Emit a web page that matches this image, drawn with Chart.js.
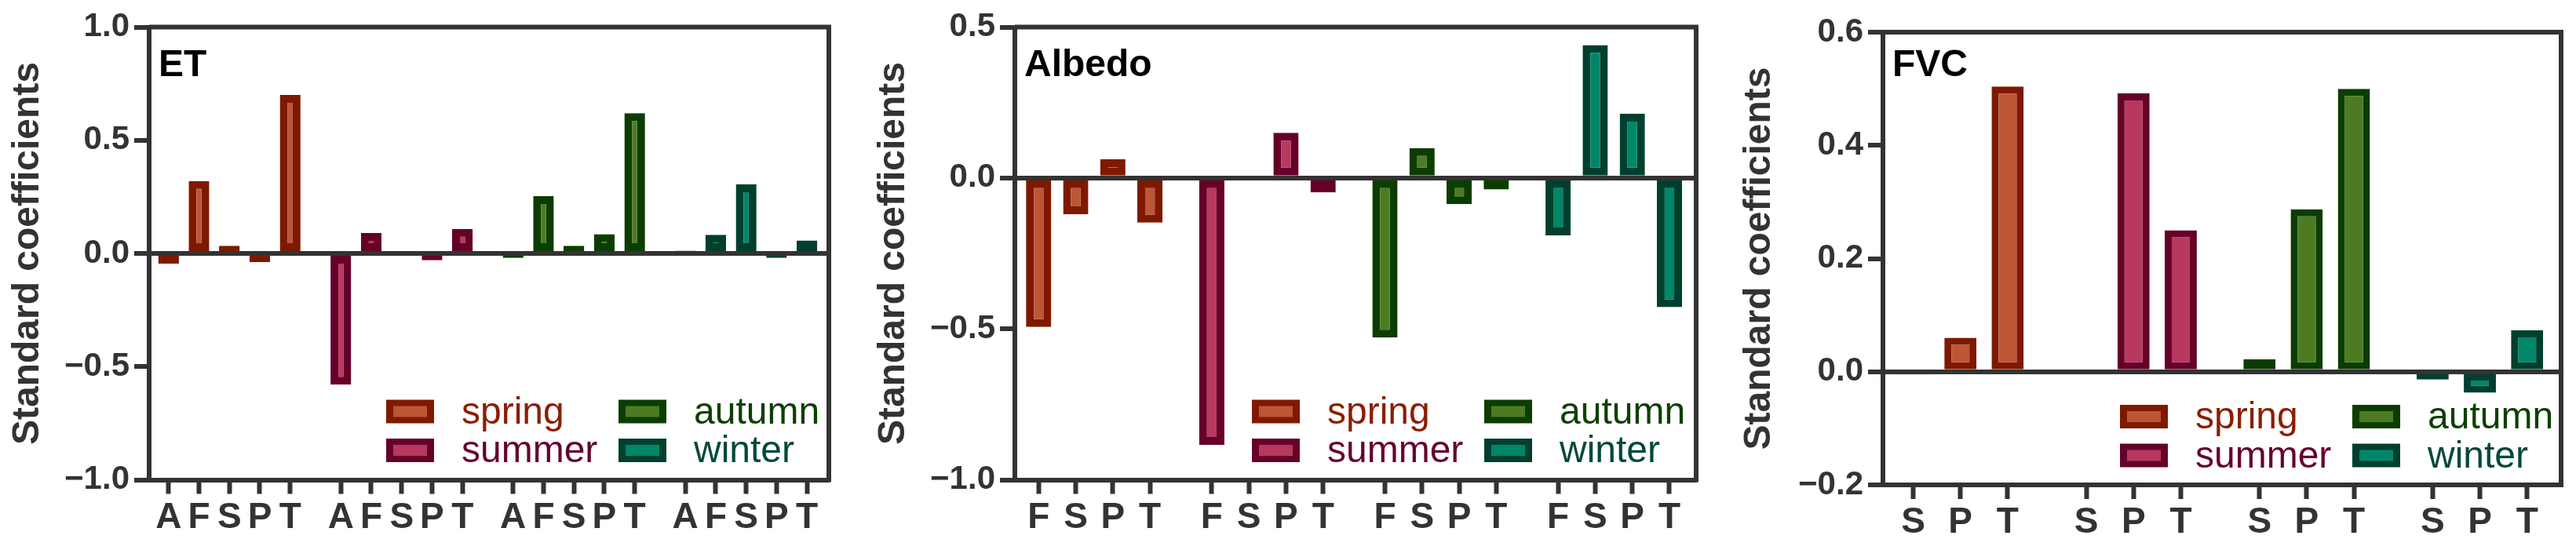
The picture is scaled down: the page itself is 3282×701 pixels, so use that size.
<!DOCTYPE html>
<html>
<head>
<meta charset="utf-8">
<script src="https://cdn.jsdelivr.net/npm/chart.js@4.4.0/dist/chart.umd.min.js"></script>
<style>
  html, body { margin: 0; padding: 0; background: #fff; }
  #wrap { position: relative; width: 3282px; height: 701px; }
  canvas { position: absolute; top: 0; }
</style>
</head>
<body>
<div id="wrap">
  <canvas id="etChart" width="1100" height="701" style="left:0px"></canvas>
  <canvas id="albedoChart" width="1100" height="701" style="left:1100px"></canvas>
  <canvas id="fvcChart" width="1082" height="701" style="left:2200px"></canvas>
</div>
<script>
// seasons (one dataset each)
const seasons = ['spring', 'summer', 'autumn', 'winter'];

// ET panel
const etLabels = ['A', 'F', 'S', 'P', 'T'];
const etSpring = [-0.045, 0.32, 0.034, -0.038, 0.70];
const etSummer = [-0.58, 0.09, 0, -0.03, 0.108];
const etAutumn = [-0.02, 0.253, 0.034, 0.085, 0.62];
const etWinter = [0.012, 0.082, 0.305, -0.02, 0.057];
const etTicks = [-1.0, -0.5, 0.0, 0.5, 1.0];

// Albedo panel
const albedoLabels = ['F', 'S', 'P', 'T'];
const albedoSpring = [-0.494, -0.12, 0.062, -0.148];
const albedoSummer = [-0.884, 0, 0.15, -0.048];
const albedoAutumn = [-0.529, 0.099, -0.087, -0.038];
const albedoWinter = [-0.19, 0.44, 0.213, -0.428];
const albedoTicks = [-1.0, -0.5, 0.0, 0.5];

// FVC panel
const fvcLabels = ['S', 'P', 'T'];
const fvcSpring = [-0.005, 0.06, 0.504];
const fvcSummer = [0, 0.492, 0.25];
const fvcAutumn = [0.022, 0.287, 0.50];
const fvcWinter = [-0.014, -0.037, 0.073];
const fvcTicks = [-0.2, 0.0, 0.2, 0.4, 0.6];

// styles
const borderColors = ['#7E1900', '#650029', '#0B3D00', '#003F2E'];
const fillColors = ['#BD5637', '#B8385F', '#4E7B21', '#008669'];
const textColors = ['#8A1E00', '#660030', '#0D4000', '#00493A'];
const FONT = '"Liberation Sans", Arial, sans-serif';
const AXIS = '#333333';
const groupGap = 2 / 3;

Chart.defaults.font.family = FONT;

function fmtTick(v) {
    var s = Math.abs(v).toFixed(1);
    return v < -1e-9 ? '\u2212' + s : s;
}

// frame (top/right), panel name and the 2x2 legend
const panelDecor = {
    id: 'panelDecor',
    afterDraw(chart, args, opts) {
        const ctx = chart.ctx;
        const a = chart.chartArea;
        ctx.save();
        ctx.strokeStyle = AXIS;
        ctx.lineWidth = 6;
        ctx.beginPath();
        ctx.moveTo(a.left, a.top);
        ctx.lineTo(a.right + 3, a.top);
        ctx.moveTo(a.right, a.top);
        ctx.lineTo(a.right, a.bottom + 3);
        ctx.stroke();

        ctx.fillStyle = '#000';
        ctx.font = 'bold 48px ' + FONT;
        ctx.textAlign = 'left';
        ctx.textBaseline = 'alphabetic';
        ctx.fillText(opts.name, a.left + 12, opts.nameY);

        ctx.font = '48px ' + FONT;
        chart.data.datasets.forEach(function(ds, k) {
            var col = Math.floor(k / 2), row = k % 2;
            var bx = a.left + 302 + col * 296;
            var by = a.bottom - 102 + row * 49.5;
            ctx.fillStyle = ds.borderColor;
            ctx.fillRect(bx, by, 61, 30);
            ctx.fillStyle = ds.backgroundColor;
            ctx.fillRect(bx + 9, by + 8, 61 - 18, 30 - 16);
            ctx.fillStyle = textColors[k];
            ctx.fillText(ds.label, bx + 96, by + 30);
        });
        ctx.restore();
    }
};

function buildPanel(canvasId, name, labels, series, yTicks, L) {
    const n = labels.length;
    const positions = [];
    for (let g = 0; g < seasons.length; g++) {
        for (let i = 0; i < n; i++) positions.push(g * (n + groupGap) + i);
    }
    const lastPos = positions[positions.length - 1];
    const canvas = document.getElementById(canvasId);

    const datasets = seasons.map(function(s, g) {
        return {
            label: s,
            data: series[g].map(function(v, i) { return { x: g * (n + groupGap) + i, y: v }; }),
            backgroundColor: fillColors[g],
            borderColor: borderColors[g],
            borderWidth: L.bw,
            borderSkipped: false,
            grouped: false,
            barPercentage: 0.68,
            categoryPercentage: 1
        };
    });

    return new Chart(canvas.getContext('2d'), {
        type: 'bar',
        data: { datasets: datasets },
        plugins: [panelDecor],
        options: {
            responsive: false,
            animation: false,
            devicePixelRatio: 1,
            layout: {
                padding: { left: 0, top: L.top, right: canvas.width - L.right, bottom: 701 - L.bottom - 80 }
            },
            scales: {
                x: {
                    type: 'linear',
                    offset: false,
                    bounds: 'data',
                    min: -0.64,
                    max: lastPos + 0.72,
                    afterBuildTicks: function(scale) {
                        scale.ticks = positions.map(function(p) { return { value: p }; });
                    },
                    afterFit: function(scale) { scale.height = 80; },
                    ticks: {
                        autoSkip: false,
                        maxRotation: 0,
                        minRotation: 0,
                        padding: 3,
                        color: AXIS,
                        font: { size: 46, weight: 'bold' },
                        callback: function(v, i) { return labels[i % n]; }
                    },
                    grid: { offset: false, drawOnChartArea: false, tickLength: 18, tickWidth: 6, tickColor: AXIS },
                    border: { color: AXIS, width: 6 }
                },
                y: {
                    type: 'linear',
                    min: yTicks[0],
                    max: yTicks[yTicks.length - 1],
                    z: 1,
                    afterBuildTicks: function(scale) {
                        scale.ticks = yTicks.map(function(v) { return { value: v }; });
                    },
                    afterFit: function(scale) { scale.width = L.left; },
                    ticks: {
                        padding: 6,
                        color: AXIS,
                        font: { size: 42, weight: 'bold' },
                        callback: function(v) { return fmtTick(v); }
                    },
                    grid: {
                        color: function(c) { return c.tick && Math.abs(c.tick.value) < 1e-9 ? AXIS : 'rgba(0,0,0,0)'; },
                        lineWidth: 6,
                        tickLength: 19,
                        tickWidth: 6,
                        tickColor: AXIS
                    },
                    border: { color: AXIS, width: 6 },
                    title: {
                        display: true,
                        text: 'Standard coefficients',
                        color: AXIS,
                        font: { size: 48, weight: 'bold' },
                        padding: { top: L.titlePad, bottom: 0 }
                    }
                }
            },
            plugins: {
                legend: { display: false },
                tooltip: { enabled: false },
                panelDecor: { name: name, nameY: 97 }
            }
        }
    });
}

buildPanel('etChart', 'ET', etLabels, [etSpring, etSummer, etAutumn, etWinter], etTicks,
    { left: 190, right: 1056, top: 34.5, bottom: 611.5, titlePad: 7, bw: 10 });
buildPanel('albedoChart', 'Albedo', albedoLabels, [albedoSpring, albedoSummer, albedoAutumn, albedoWinter], albedoTicks,
    { left: 193, right: 1061, top: 34.5, bottom: 611.5, titlePad: 10, bw: 10 });
buildPanel('fvcChart', 'FVC', fvcLabels, [fvcSpring, fvcSummer, fvcAutumn, fvcWinter], fvcTicks,
    { left: 199, right: 1063, top: 41, bottom: 618, titlePad: 13, bw: 9 });
</script>
</body>
</html>
